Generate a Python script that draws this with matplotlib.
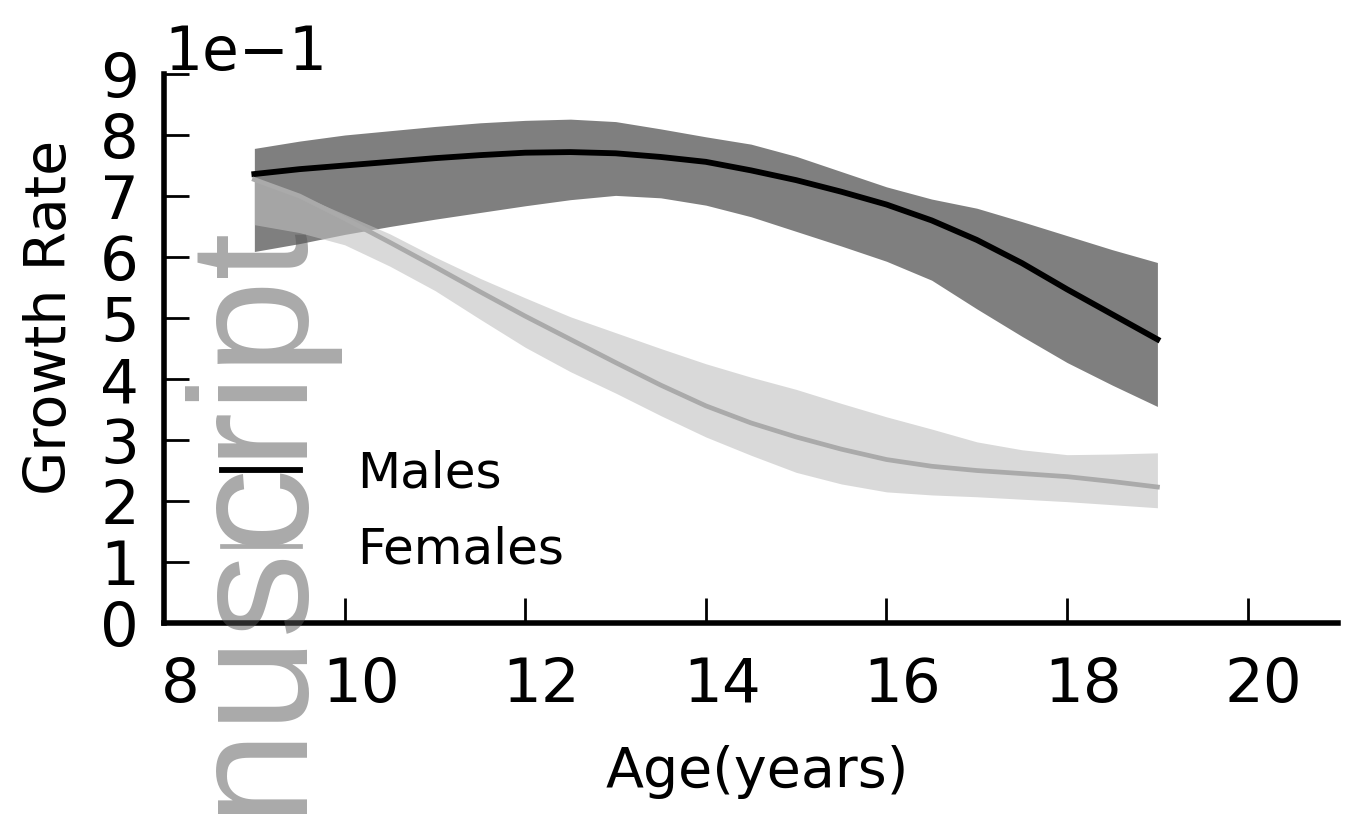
import matplotlib
matplotlib.use("Agg")
import matplotlib.pyplot as plt
import matplotlib.transforms as mtransforms

# growth rate by age, fitted mean with band limits
age = [9.0, 9.5, 10.0, 10.5, 11.0, 11.5, 12.0, 12.5, 13.0, 13.5, 14.0,
       14.5, 15.0, 15.5, 16.0, 16.5, 17.0, 17.5, 18.0, 18.5, 19.0]

male_mean = [0.736, 0.744, 0.750, 0.756, 0.762, 0.767, 0.771, 0.772, 0.770, 0.764, 0.756,
             0.742, 0.726, 0.707, 0.686, 0.660, 0.628, 0.590, 0.547, 0.506, 0.465]
male_upper = [0.778, 0.790, 0.800, 0.807, 0.814, 0.820, 0.824, 0.826, 0.822, 0.810, 0.797,
              0.785, 0.765, 0.740, 0.715, 0.695, 0.680, 0.658, 0.635, 0.612, 0.591]
male_lower = [0.609, 0.622, 0.637, 0.650, 0.662, 0.673, 0.684, 0.694, 0.701, 0.697, 0.685,
              0.666, 0.642, 0.618, 0.593, 0.562, 0.515, 0.470, 0.427, 0.390, 0.355]

female_mean = [0.727, 0.700, 0.663, 0.624, 0.584, 0.543, 0.503, 0.465, 0.427, 0.390, 0.356,
               0.328, 0.305, 0.285, 0.268, 0.257, 0.250, 0.245, 0.240, 0.232, 0.223]
female_upper = [0.730, 0.702, 0.670, 0.638, 0.600, 0.565, 0.533, 0.502, 0.476, 0.450, 0.425,
                0.403, 0.383, 0.360, 0.338, 0.318, 0.297, 0.284, 0.276, 0.277, 0.279]
female_lower = [0.653, 0.640, 0.620, 0.585, 0.545, 0.498, 0.452, 0.412, 0.377, 0.340, 0.305,
                0.275, 0.247, 0.228, 0.215, 0.210, 0.207, 0.203, 0.199, 0.194, 0.189]

x_ticks = [8, 10, 12, 14, 16, 18, 20]
y_ticks = [0.0, 0.1, 0.2, 0.3, 0.4, 0.5, 0.6, 0.7, 0.8, 0.9]

plt.rcParams["font.family"] = ["DejaVu Sans"]

fig = plt.figure(figsize=(13.48, 8.14), dpi=100)
ax = fig.add_axes([0.1217, 0.2346, 0.8709, 0.6745])

ax.fill_between(age, male_lower, male_upper, color="k", alpha=0.5, linewidth=0, zorder=1)
ax.plot(age, male_mean, color="k", linewidth=4.2, label="Males", zorder=3)
ax.fill_between(age, female_lower, female_upper, color="#c0c0c0", alpha=0.6, linewidth=0, zorder=2)
ax.plot(age, female_mean, color="#aaaaaa", linewidth=3.4, label="Females", zorder=3)

ax.set_xlim(8, 21)
ax.set_ylim(0, 0.9)
ax.set_xticks(x_ticks)
ax.set_yticks(y_ticks)
ax.ticklabel_format(style="sci", axis="y", scilimits=(0, 0))
ax.yaxis.get_offset_text().set_fontsize(43)

for side in ("top", "right"):
    ax.spines[side].set_visible(False)
for side in ("left", "bottom"):
    ax.spines[side].set_linewidth(4)

ax.tick_params(axis="both", direction="in", length=18, width=2, labelsize=44)
ax.tick_params(axis="x", pad=24)
ax.tick_params(axis="y", pad=18)

# x tick labels sit a little right of their ticks
shift = mtransforms.ScaledTranslation(0.16, 0, fig.dpi_scale_trans)
for label in ax.get_xticklabels():
    label.set_transform(label.get_transform() + shift)

ax.set_xlabel("Age(years)", fontsize=40)
ax.set_ylabel("Growth Rate", fontsize=41)
ax.xaxis.set_label_coords(0.505, -0.223)
ax.yaxis.set_label_coords(-0.073, 0.557)

leg = ax.legend(loc="upper left", bbox_to_anchor=(0.0494, 0.316), frameon=False, fontsize=36,
                handlelength=1.56, handletextpad=1.14, labelspacing=0.55,
                borderpad=0, borderaxespad=0)
leg.set_zorder(6)

ax.text(0.2203, 0.0, "nuscript", transform=fig.transFigure, rotation=90,
        rotation_mode="anchor", ha="left", va="baseline", family=["Liberation Sans"],
        fontsize=122, color="#555555", alpha=0.5, clip_on=False, zorder=5)

fig.savefig("out.png", dpi=100)
